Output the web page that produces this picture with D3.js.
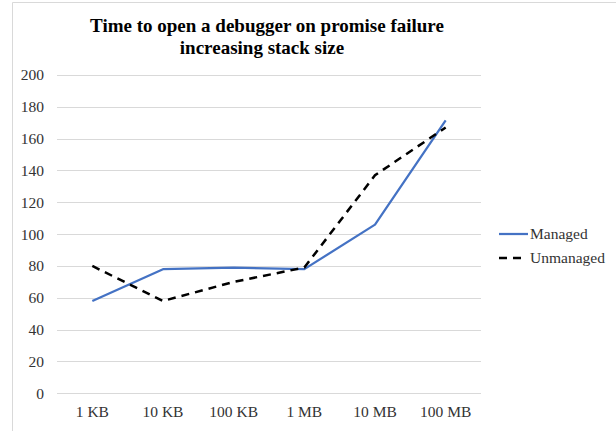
<!DOCTYPE html>
<html><head><meta charset="utf-8">
<script src="https://cdn.jsdelivr.net/npm/d3@7"></script>
<style>body{margin:0;background:#fff;} svg{display:block;}</style>
</head><body>
<script>
const categories = ["1 KB","10 KB","100 KB","1 MB","10 MB","100 MB"];
const managed = [58, 78, 79, 78, 106, 171.5];
const unmanaged = [80, 58, 70, 79, 137, 167];
const yTicks = [0,20,40,60,80,100,120,140,160,180,200];
const seriesNames = ["Managed","Unmanaged"];

const W = 616, H = 431;
const svg = d3.select("body").append("svg").attr("width", W).attr("height", H);
const font = "Liberation Serif, Times New Roman, serif";

// chart border
svg.append("path").attr("d", `M12.5,${H} L12.5,2.5 L${W},2.5`).attr("fill","none").attr("stroke","#d9d9d9").attr("stroke-width",1);

const x = d3.scaleBand().domain(categories).range([57, 481]);
const y = d3.scaleLinear().domain([0,200]).range([393.3, 75]);

// gridlines
svg.append("g").selectAll("line").data(yTicks).join("line")
  .attr("x1",57).attr("x2",481)
  .attr("y1",d=>Math.round(y(d))+0.5).attr("y2",d=>Math.round(y(d))+0.5)
  .attr("stroke","#d9d9d9").attr("stroke-width",1);

// y axis labels
const yAxis = d3.axisLeft(y).tickValues(yTicks).tickSize(0).tickPadding(0);
const gy = svg.append("g").attr("transform","translate(44,0)").call(yAxis)
  .attr("font-family",font).attr("font-size",15.5);
gy.select(".domain").remove();
gy.selectAll("text").style("font-family",font).style("font-size","15.5px").attr("fill","#333");

// x axis labels
const xAxis = d3.axisBottom(x).tickSize(0).tickPadding(0);
const gx = svg.append("g").attr("transform","translate(0,406)").call(xAxis)
  .attr("font-family",font).attr("font-size",15.5);
gx.select(".domain").remove();
gx.selectAll("text").style("font-family",font).style("font-size","15.5px").attr("fill","#333");

const line = d3.line().x((d,i)=>x(categories[i])+x.bandwidth()/2).y(d=>y(d));
svg.append("path").datum(managed).attr("d",line).attr("fill","none")
  .attr("stroke","#4472C4").attr("stroke-width",2.25).attr("stroke-linejoin","round");
svg.append("path").datum(unmanaged).attr("d",line).attr("fill","none")
  .attr("stroke","#000").attr("stroke-width",2.5).attr("stroke-dasharray","8,6");

// title
const title = svg.append("text").style("font-family",font).attr("font-weight","bold")
  .style("font-size","19px").attr("text-anchor","middle").attr("fill","#000");
title.append("tspan").attr("x",267).attr("y",32).text("Time to open a debugger on promise failure");
title.append("tspan").attr("x",262).attr("y",54).text("increasing stack size");

// legend
const legend = svg.append("g");
const ly = [234, 258];
legend.append("line").attr("x1",499).attr("x2",528).attr("y1",ly[0]).attr("y2",ly[0])
  .attr("stroke","#4472C4").attr("stroke-width",2.25);
legend.append("line").attr("x1",499).attr("x2",527).attr("y1",ly[1]).attr("y2",ly[1])
  .attr("stroke","#000").attr("stroke-width",2.5).attr("stroke-dasharray","8,6");
legend.selectAll("text").data(seriesNames).join("text")
  .attr("x",530).attr("y",(d,i)=>ly[i]+5)
  .style("font-family",font).style("font-size","15.5px").attr("fill","#333").text(d=>d);
</script>
</body></html>
